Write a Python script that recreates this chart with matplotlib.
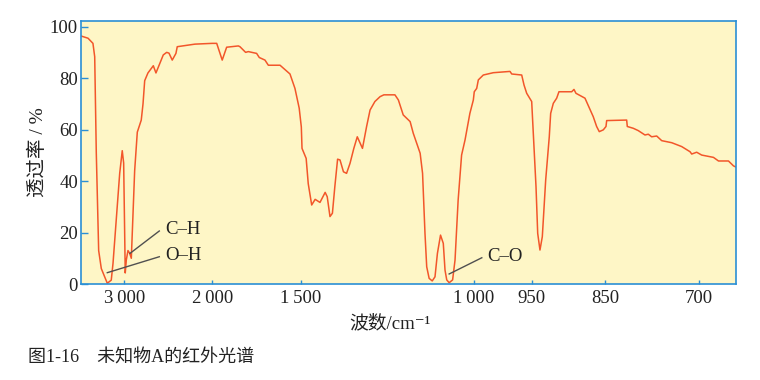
import numpy as np
import matplotlib
matplotlib.use("Agg")
import matplotlib.pyplot as plt

# IR spectrum of unknown A (wavenumber in cm-1, transmittance in %)
wavenumber = [3495, 3412, 3356, 3336, 3318, 3291, 3261, 3193, 3148, 3128, 3091, 3052, 3023, 3007,
              2995, 2989, 2977, 2958, 2939, 2920, 2882, 2852, 2807, 2787, 2768, 2731, 2670, 2640,
              2557, 2518, 2492, 2455, 2413, 2398, 2197, 2000, 1975, 1944, 1919, 1853, 1844, 1812,
              1797, 1750, 1735, 1703, 1684, 1618, 1577, 1562, 1534, 1510, 1499, 1497, 1485, 1479,
              1469, 1459, 1445, 1430, 1424, 1416, 1409, 1402, 1394, 1387, 1377, 1368, 1358, 1347,
              1337, 1322, 1310, 1300, 1286, 1271, 1260, 1228, 1218, 1204, 1184, 1175, 1165, 1155,
              1148, 1141, 1136, 1129, 1120, 1112, 1105, 1096, 1088, 1083, 1078, 1071, 1061, 1054,
              1045, 1035, 1025, 1011, 1001, 999.5, 997.4, 996, 991.7, 983.1, 968.7, 967.2, 958.6,
              956.6, 954.3, 950, 947.8, 944.1, 941.8, 938.7, 935.5, 930.9, 926, 924.1, 920.5, 915.9,
              912.8, 895.4, 892.3, 889.6, 877.3, 866, 861.4, 857.8, 852.3, 848.4, 847.3, 815.4,
              814.4, 804.8, 796.9, 786.2, 780.9, 775.5, 767.5, 759.5, 743.5, 727.6, 714.3, 711.6,
              703.7, 695.7, 676.9, 668.9, 653, 645, 640.7]
transmittance = [96.4, 95.5, 93.5, 88.3, 51, 13, 6, 0.3, 1.5, 8, 25, 43, 51.8, 47,
                 18.4, 4.3, 9.3, 13, 12, 10, 44, 59, 63.7, 70, 79, 82, 84.8, 82,
                 89, 90, 89.7, 87, 89.6, 92.2, 93.2, 93.5, 93.5, 87, 92, 92.5, 92.2, 90,
                 90.3, 89.6, 88, 87, 85, 85, 82.5, 81.6, 76, 68.3, 61, 52.7, 48.8, 39,
                 30.7, 32.9, 31.7, 35.6, 33.9, 26.2, 27.5, 37.8, 48.5, 48.2, 43.6, 43, 46.9, 52.7,
                 57.2, 52.7, 61.2, 67.6, 70.9, 72.8, 73.5, 73.5, 71.5, 65.7, 63.1, 58.6, 54.7, 50.8,
                 43, 19.7, 6.7, 2.2, 1.2, 2.8, 11.9, 19, 15.8, 5.4, 1.6, 0.5, 1.6, 9.3,
                 32.6, 50.1, 56, 66.3, 71.5, 74.7, 76, 79.3, 81.2, 82.1, 82.6, 81.6, 81.2,
                 77.3, 74.1, 70.9, 58.6, 37.8, 19.7, 13.2, 18.4, 40.4, 57.2, 66.3, 70.2, 72.2,
                 74.7, 74.7, 75.6, 74.1, 72.2, 65, 61.2, 59.2, 59.9, 61.2, 63.5, 63.7,
                 61.2, 60.5, 59.6, 57.9, 58.2, 57.2, 57.5, 55.7, 54.9, 53.4, 51.4, 50.5,
                 51.2, 50.1, 49.2, 47.8, 47.8, 45.9, 45.4]

xticks = [3000, 2000, 1500, 1000, 950, 850, 700]
xtick_labels = ["3\u2009000", "2\u2009000", "1\u2009500", "1\u2009000", "950", "850", "700"]
yticks = [0, 20, 40, 60, 80, 100]

# labelled bands: (text, line start, line end)
bands = [("C\u2013H", (2935, 11.9), (2602, 20.6)),
         ("O\u2013H", (3193, 4.4), (2602, 10.6)),
         ("C\u2013O", (1071, 3.9), (993, 10.2))]

# the printed axis is stretched piecewise; breakpoints of that stretch
brk_wn = np.array([3500, 3000, 2000, 1500, 1000, 950, 850, 700, 600])
brk_pos = np.array([80.3, 124.3, 212.3, 301, 473.7, 531.7, 605, 699, 761.7])


def forward(x):
    return np.interp(-np.asarray(x, dtype=float), -brk_wn, brk_pos)


def inverse(p):
    return -np.interp(np.asarray(p, dtype=float), brk_pos, -brk_wn)


plt.rcParams['font.family'] = ['Liberation Serif', 'Noto Sans CJK SC', 'DejaVu Serif']

blue = '#2b8fd4'
txtc = '#222222'
fig = plt.figure(figsize=(7.6, 3.8), dpi=100)
ax = fig.add_axes([0.1062, 0.2526, 0.8622, 0.6929])
ax.set_facecolor('#fef6c6')

ax.set_xscale('function', functions=(forward, inverse))
ax.plot(wavenumber, transmittance, color='#f2562a', lw=1.1)

for txt, p0, p1 in bands:
    ax.plot([p0[0], p1[0]], [p0[1], p1[1]], color='#505050', lw=1.0)
    ax.text(p1[0] - (65 if txt != "C\u2013O" else 5), p1[1] + 0.5, txt,
            fontsize=13.5, va='center', ha='left', color=txtc)

# scale transform is decreasing, so limits are given low-to-high
ax.set_xlim(641, 3495)
ax.set_ylim(0, 102.3)
ax.set_xticks(xticks)
ax.set_xticklabels(xtick_labels)
ax.set_yticks(yticks)
ax.minorticks_off()
ax.tick_params(axis='x', direction='in', length=3, width=1, color=blue,
               labelsize=13.5, pad=4, labelcolor=txtc)
ax.tick_params(axis='y', direction='in', length=5, width=1, color=blue,
               labelsize=13.5, pad=2, labelcolor=txtc)
for sp in ax.spines.values():
    sp.set_color(blue)
    sp.set_linewidth(1.2)

ax.set_xlabel('波数/cm\u207b\u00b9', fontsize=13.5, color=txtc)
ax.xaxis.set_label_coords(0.472, -0.115)
ax.set_ylabel('透过率 / %', fontsize=14, labelpad=2, color=txtc)

fig.text(28 / 760, 1 - 358 / 380, '图1-16　未知物A的红外光谱', fontsize=13,
         va='center', ha='left', color=txtc)

fig.savefig('out.png', dpi=100)
